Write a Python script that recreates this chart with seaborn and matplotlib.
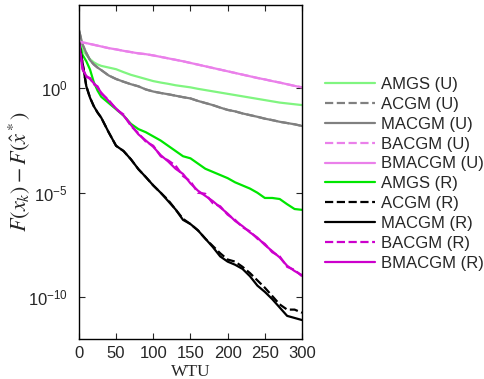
import numpy as np
import pandas as pd
import matplotlib
matplotlib.use("Agg")
import matplotlib.pyplot as plt
import seaborn as sns

# WTU grid
wtu = [0, 5, 10, 15, 20, 25, 30, 40, 50, 60, 70, 80, 90, 100, 110, 120, 130, 140,
       150, 160, 170, 180, 190, 200, 210, 220, 230, 240, 250, 260, 270, 280, 290, 300]

# log10(F(x_k) - F(x*))
amgs_u = [2.23, 1.85, 1.6, 1.4, 1.25, 1.15, 1.08, 1.0, 0.92, 0.78, 0.65, 0.55, 0.45, 0.35,
          0.28, 0.22, 0.15, 0.1, 0.05, -0.02, -0.08, -0.14, -0.2, -0.26, -0.32, -0.38,
          -0.44, -0.5, -0.56, -0.62, -0.68, -0.72, -0.76, -0.8]
acgm_u = [2.8, 2.1, 1.7, 1.35, 1.15, 1.0, 0.88, 0.62, 0.45, 0.32, 0.2, 0.1, -0.05, -0.15,
          -0.22, -0.28, -0.35, -0.42, -0.48, -0.6, -0.7, -0.8, -0.92, -1.03, -1.1, -1.2,
          -1.28, -1.36, -1.45, -1.52, -1.6, -1.66, -1.72, -1.8]
macgm_u = [2.8, 2.1, 1.7, 1.35, 1.15, 1.0, 0.88, 0.62, 0.45, 0.32, 0.2, 0.1, -0.05, -0.15,
           -0.22, -0.28, -0.35, -0.42, -0.48, -0.6, -0.7, -0.8, -0.92, -1.03, -1.1, -1.2,
           -1.28, -1.36, -1.45, -1.52, -1.6, -1.66, -1.72, -1.8]
bacgm_u = [2.23, 2.2, 2.17, 2.13, 2.09, 2.05, 2.01, 1.93, 1.87, 1.8, 1.74, 1.68, 1.64, 1.58,
           1.51, 1.44, 1.37, 1.3, 1.22, 1.14, 1.06, 0.98, 0.9, 0.82, 0.74, 0.66, 0.58, 0.5,
           0.43, 0.35, 0.28, 0.2, 0.12, 0.05]
bmacgm_u = [2.23, 2.2, 2.17, 2.13, 2.09, 2.05, 2.01, 1.93, 1.87, 1.8, 1.74, 1.68, 1.64, 1.58,
            1.51, 1.44, 1.37, 1.3, 1.22, 1.14, 1.06, 0.98, 0.9, 0.82, 0.74, 0.66, 0.58, 0.5,
            0.43, 0.35, 0.28, 0.2, 0.12, 0.05]
amgs_r = [2.23, 1.6, 1.3, 0.9, 0.3, -0.1, -0.4, -0.7, -1.0, -1.3, -1.7, -1.95, -2.1, -2.3,
          -2.5, -2.75, -3.0, -3.25, -3.35, -3.6, -3.85, -4.0, -4.15, -4.3, -4.5, -4.65,
          -4.8, -5.0, -5.25, -5.25, -5.3, -5.55, -5.78, -5.82]
acgm_r = [2.23, 1.2, 0.1, -0.45, -0.85, -1.15, -1.4, -2.1, -2.75, -3.0, -3.4, -3.87, -4.25,
          -4.65, -5.0, -5.35, -5.8, -6.25, -6.5, -6.8, -7.2, -7.55, -7.9, -8.2, -8.3, -8.55,
          -8.85, -9.2, -9.55, -9.95, -10.35, -10.6, -10.6, -10.75]
macgm_r = [2.23, 1.2, 0.1, -0.45, -0.85, -1.15, -1.4, -2.1, -2.75, -3.0, -3.4, -3.87, -4.25,
           -4.65, -5.0, -5.4, -5.8, -6.3, -6.5, -6.8, -7.2, -7.6, -8.05, -8.3, -8.45, -8.65,
           -9.0, -9.45, -9.75, -10.1, -10.5, -10.9, -11.0, -11.1]
bacgm_r = [2.23, 0.95, 0.55, 0.5, 0.2, 0.1, -0.25, -0.55, -1.0, -1.25, -1.8, -2.15, -2.55,
           -2.75, -3.25, -3.45, -3.7, -4.2, -4.45, -5.0, -5.05, -5.5, -5.65, -6.05, -6.3,
           -6.65, -6.85, -7.2, -7.45, -7.85, -8.05, -8.55, -8.7, -9.0]
bmacgm_r = [2.23, 0.9, 0.6, 0.45, 0.25, 0.05, -0.2, -0.6, -0.96, -1.3, -1.75, -2.2, -2.5,
            -2.8, -3.2, -3.5, -3.85, -4.1, -4.55, -4.9, -5.15, -5.4, -5.7, -6.0, -6.35,
            -6.6, -6.9, -7.15, -7.5, -7.8, -8.1, -8.5, -8.75, -8.95]

labels = ["AMGS (U)", "ACGM (U)", "MACGM (U)", "BACGM (U)", "BMACGM (U)",
          "AMGS (R)", "ACGM (R)", "MACGM (R)", "BACGM (R)", "BMACGM (R)"]
series = [amgs_u, acgm_u, macgm_u, bacgm_u, bmacgm_u,
          amgs_r, acgm_r, macgm_r, bacgm_r, bmacgm_r]
colors = ["#80f580", "#808080", "#808080", "#ea80ea", "#ea80ea",
          "#00e600", "#000000", "#000000", "#cc00cc", "#cc00cc"]
styles = ["-", "--", "-", "--", "-", "-", "--", "-", "--", "-"]

sns.set_style("ticks")
plt.rcParams["font.family"] = ["Liberation Sans", "DejaVu Sans"]
plt.rcParams["mathtext.fontset"] = "stix"

fig = plt.figure(figsize=(4.84, 3.79), dpi=100)
ax = fig.add_axes([0.163, 0.106, 0.461, 0.881])

for lab, vals, col, ls in zip(labels, series, colors, styles):
    df = pd.DataFrame({"WTU": wtu, "gap": np.power(10.0, vals)})
    sns.lineplot(data=df, x="WTU", y="gap", ax=ax, color=col, linestyle=ls,
                 linewidth=1.6, label=lab)

ax.set_yscale("log")
ax.set_xlim(0, 300)
ax.set_ylim(1e-12, 1e4)
ax.set_xticks([0, 50, 100, 150, 200, 250, 300])
ax.set_yticks([1e-10, 1e-5, 1e0])
ax.minorticks_off()
ax.tick_params(direction="in", top=True, right=True, length=4, width=0.8,
               labelsize=12)
ax.tick_params(axis="x", pad=5)
ax.tick_params(axis="y", pad=8)
for s in ax.spines.values():
    s.set_linewidth(1.0)
    s.set_color("black")

ax.set_xlabel("WTU", family="Liberation Serif", fontsize=12.5, labelpad=2)
ax.set_ylabel(r"$F(x_k) - F(\hat{x}^*)$", fontsize=16, labelpad=-3)

ax.legend(loc="upper left", bbox_to_anchor=(1.105, 0.784), frameon=False,
          fontsize=12, handlelength=3.0, handletextpad=0.35, labelspacing=0.29,
          borderaxespad=0.0, borderpad=0.0)

fig.savefig("out.png", dpi=100)
